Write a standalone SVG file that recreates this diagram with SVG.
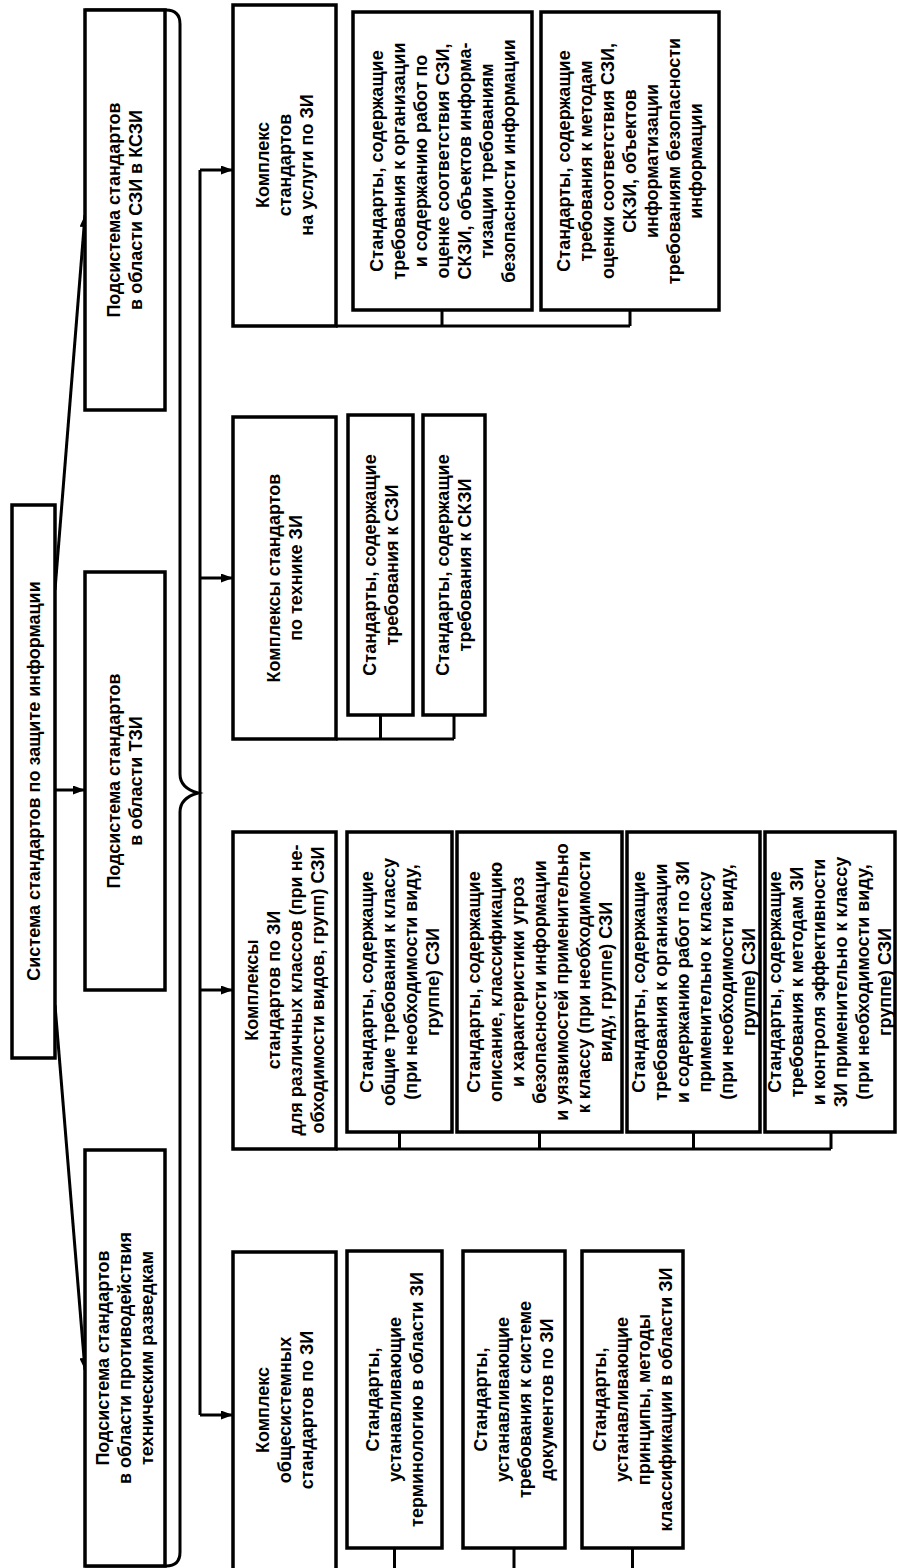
<svg xmlns="http://www.w3.org/2000/svg" width="897" height="1568" viewBox="0 0 897 1568">
<defs>
<style>
.box{fill:#fff;stroke:#000;stroke-width:3.5}
.ln{fill:none;stroke:#000;stroke-width:3}
.t{font-family:"Liberation Sans",Arial,sans-serif;font-weight:bold;font-size:18px;text-anchor:middle;fill:#000}
</style>
<marker id="ah" markerUnits="userSpaceOnUse" markerWidth="12" markerHeight="9" refX="12" refY="4.5" orient="auto">
<path d="M0,0 L12,4.5 L0,9 z" fill="#000"/>
</marker>
</defs>
<rect width="897" height="1568" fill="#fff"/>

<g id="connectors">
<path class="ln" d="M55,590 L85,215" marker-end="url(#ah)"/>
<path class="ln" d="M55,790 L85,790" marker-end="url(#ah)"/>
<path class="ln" d="M55,1005 L85,1370" marker-end="url(#ah)"/>
<path class="ln" d="M85,10 H166 Q180,10 180,24 V774 Q180,788 198,793 Q180,798 180,812 V1552 Q180,1566 166,1566 H85"/>
<path class="ln" d="M200,170 V1415"/>
<path class="ln" d="M200,170 H233" marker-end="url(#ah)"/>
<path class="ln" d="M200,578 H233" marker-end="url(#ah)"/>
<path class="ln" d="M200,990 H233" marker-end="url(#ah)"/>
<path class="ln" d="M200,1415 H233" marker-end="url(#ah)"/>
<path class="ln" d="M336,326 H630 M442,310 V326 M630,310 V326"/>
<path class="ln" d="M336,739 H454 M380.5,715 V739 M454,715 V739"/>
<path class="ln" d="M336,1149 H831 M399.5,1132 V1149 M539.5,1132 V1149 M693.5,1132 V1149 M831,1132 V1149"/>
<path class="ln" d="M394.5,1548 V1568 M514,1548 V1568 M632.5,1548 V1568"/>
</g>

<g id="root">
<rect class="box" x="12" y="505" width="43" height="553"/>
<g transform="translate(33.5,781) rotate(-90)"><text class="t"><tspan x="0" y="6">Система стандартов по защите информации</tspan></text></g>
</g>

<g id="sub1">
<rect class="box" x="85" y="10" width="80" height="400"/>
<g transform="translate(125,210) rotate(-90)"><text class="t"><tspan x="0" y="-5">Подсистема стандартов</tspan><tspan x="0" y="17">в области СЗИ в КСЗИ</tspan></text></g>
</g>
<g id="sub2">
<rect class="box" x="85" y="572" width="80" height="418"/>
<g transform="translate(125,781) rotate(-90)"><text class="t"><tspan x="0" y="-5">Подсистема стандартов</tspan><tspan x="0" y="17">в области ТЗИ</tspan></text></g>
</g>
<g id="sub3">
<rect class="box" x="85" y="1150" width="80" height="416"/>
<g transform="translate(125,1358) rotate(-90)"><text class="t"><tspan x="0" y="-16">Подсистема стандартов</tspan><tspan x="0" y="6">в области противодействия</tspan><tspan x="0" y="28">техническим разведкам</tspan></text></g>
</g>

<g id="complexA">
<rect class="box" x="233" y="5" width="103" height="321"/>
<g transform="translate(284.5,165) rotate(-90)"><text class="t"><tspan x="0" y="-16">Комплекс</tspan><tspan x="0" y="6">стандартов</tspan><tspan x="0" y="28">на услуги по ЗИ</tspan></text></g>
</g>
<g id="complexB">
<rect class="box" x="233" y="417" width="103" height="322"/>
<g transform="translate(284.5,578) rotate(-90)"><text class="t"><tspan x="0" y="-5">Комплексы стандартов</tspan><tspan x="0" y="17">по технике ЗИ</tspan></text></g>
</g>
<g id="complexC">
<rect class="box" x="233" y="832" width="103" height="317"/>
<g transform="translate(284.5,990) rotate(-90)"><text class="t"><tspan x="0" y="-27">Комплексы</tspan><tspan x="0" y="-5">стандартов по ЗИ</tspan><tspan x="0" y="17">для различных классов (при не-</tspan><tspan x="0" y="39">обходимости видов, групп) СЗИ</tspan></text></g>
</g>
<g id="complexD">
<rect class="box" x="233" y="1252" width="103" height="330"/>
<g transform="translate(284.5,1410) rotate(-90)"><text class="t"><tspan x="0" y="-16">Комплекс</tspan><tspan x="0" y="6">общесистемных</tspan><tspan x="0" y="28">стандартов по ЗИ</tspan></text></g>
</g>

<g id="A1">
<rect class="box" x="353" y="12" width="179" height="298"/>
<g transform="translate(442.5,161) rotate(-90)"><text class="t"><tspan x="0" y="-60">Стандарты, содержащие</tspan><tspan x="0" y="-38">требования к организации</tspan><tspan x="0" y="-16">и содержанию работ по</tspan><tspan x="0" y="6">оценке соответствия СЗИ,</tspan><tspan x="0" y="28">СКЗИ, объектов информа-</tspan><tspan x="0" y="50">тизации требованиям</tspan><tspan x="0" y="72">безопасности информации</tspan></text></g>
</g>
<g id="A2">
<rect class="box" x="541" y="12" width="178" height="298"/>
<g transform="translate(630,161) rotate(-90)"><text class="t"><tspan x="0" y="-60">Стандарты, содержащие</tspan><tspan x="0" y="-38">требования к методам</tspan><tspan x="0" y="-16">оценки соответствия СЗИ,</tspan><tspan x="0" y="6">СКЗИ, объектов</tspan><tspan x="0" y="28">информатизации</tspan><tspan x="0" y="50">требованиям безопасности</tspan><tspan x="0" y="72">информации</tspan></text></g>
</g>

<g id="B1">
<rect class="box" x="348" y="415" width="65" height="300"/>
<g transform="translate(380.5,565) rotate(-90)"><text class="t"><tspan x="0" y="-5">Стандарты, содержащие</tspan><tspan x="0" y="17">требования к СЗИ</tspan></text></g>
</g>
<g id="B2">
<rect class="box" x="423" y="415" width="62" height="300"/>
<g transform="translate(454,565) rotate(-90)"><text class="t"><tspan x="0" y="-5">Стандарты, содержащие</tspan><tspan x="0" y="17">требования к СКЗИ</tspan></text></g>
</g>

<g id="C1">
<rect class="box" x="347" y="832" width="105" height="300"/>
<g transform="translate(399.5,982) rotate(-90)"><text class="t"><tspan x="0" y="-27">Стандарты, содержащие</tspan><tspan x="0" y="-5">общие требования к классу</tspan><tspan x="0" y="17">(при необходимости виду,</tspan><tspan x="0" y="39">группе) СЗИ</tspan></text></g>
</g>
<g id="C2">
<rect class="box" x="457" y="832" width="165" height="300"/>
<g transform="translate(539.5,982) rotate(-90)"><text class="t"><tspan x="0" y="-60">Стандарты, содержащие</tspan><tspan x="0" y="-38">описание, классификацию</tspan><tspan x="0" y="-16">и характеристики угроз</tspan><tspan x="0" y="6">безопасности информации</tspan><tspan x="0" y="28">и уязвимостей применительно</tspan><tspan x="0" y="50">к классу (при необходимости</tspan><tspan x="0" y="72">виду, группе) СЗИ</tspan></text></g>
</g>
<g id="C3">
<rect class="box" x="627" y="832" width="133" height="300"/>
<g transform="translate(693.5,982) rotate(-90)"><text class="t"><tspan x="0" y="-49">Стандарты, содержащие</tspan><tspan x="0" y="-27">требования к организации</tspan><tspan x="0" y="-5">и содержанию работ по ЗИ</tspan><tspan x="0" y="17">применительно к классу</tspan><tspan x="0" y="39">(при необходимости виду,</tspan><tspan x="0" y="61">группе) СЗИ</tspan></text></g>
</g>
<g id="C4">
<rect class="box" x="765" y="832" width="130" height="300"/>
<g transform="translate(830,982) rotate(-90)"><text class="t"><tspan x="0" y="-49">Стандарты, содержащие</tspan><tspan x="0" y="-27">требования к методам ЗИ</tspan><tspan x="0" y="-5">и контроля эффективности</tspan><tspan x="0" y="17">ЗИ применительно к классу</tspan><tspan x="0" y="39">(при необходимости виду,</tspan><tspan x="0" y="61">группе) СЗИ</tspan></text></g>
</g>

<g id="D1">
<rect class="box" x="347" y="1251" width="95" height="297"/>
<g transform="translate(394.5,1399.5) rotate(-90)"><text class="t"><tspan x="0" y="-16">Стандарты,</tspan><tspan x="0" y="6">устанавливающие</tspan><tspan x="0" y="28">терминологию в области ЗИ</tspan></text></g>
</g>
<g id="D2">
<rect class="box" x="463" y="1251" width="102" height="297"/>
<g transform="translate(514,1399.5) rotate(-90)"><text class="t"><tspan x="0" y="-27">Стандарты,</tspan><tspan x="0" y="-5">устанавливающие</tspan><tspan x="0" y="17">требования к системе</tspan><tspan x="0" y="39">документов по ЗИ</tspan></text></g>
</g>
<g id="D3">
<rect class="box" x="582" y="1251" width="101" height="297"/>
<g transform="translate(632.5,1399.5) rotate(-90)"><text class="t"><tspan x="0" y="-27">Стандарты,</tspan><tspan x="0" y="-5">устанавливающие</tspan><tspan x="0" y="17">принципы, методы</tspan><tspan x="0" y="39">классификации в области ЗИ</tspan></text></g>
</g>
</svg>
